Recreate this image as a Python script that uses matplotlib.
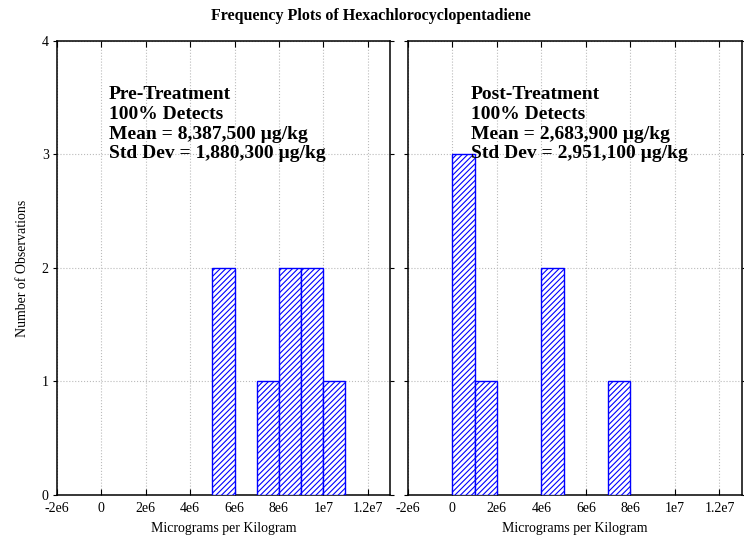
import numpy as np
import matplotlib.pyplot as plt

plt.rcParams['font.family'] = 'Liberation Serif'

# bin left edges (ug/kg) and counts
pre_edges = [5e6, 7e6, 8e6, 9e6, 1e7]
pre_counts = [2, 1, 2, 2, 1]
post_edges = [0, 1e6, 4e6, 7e6]
post_counts = [3, 1, 2, 1]
bin_width = 1e6

pre_text = "Pre-Treatment\n100% Detects\nMean = 8,387,500 µg/kg\nStd Dev = 1,880,300 µg/kg"
post_text = "Post-Treatment\n100% Detects\nMean = 2,683,900 µg/kg\nStd Dev = 2,951,100 µg/kg"

xticks = [-2e6, 0, 2e6, 4e6, 6e6, 8e6, 1e7, 1.2e7]
xticklabels = ["-2e6", "0", "2e6", "4e6", "6e6", "8e6", "1e7", "1.2e7"]

plt.rcParams['hatch.color'] = 'blue'
plt.rcParams['hatch.linewidth'] = 0.8

fig = plt.figure(figsize=(7.44, 5.46), dpi=100)
ax1 = fig.add_axes([0.0766, 0.0934, 0.4474, 0.8316])
ax2 = fig.add_axes([0.548, 0.0934, 0.449, 0.8316])

for ax, edges, counts, txt, tx in [(ax1, pre_edges, pre_counts, pre_text, 0.156),
                                   (ax2, post_edges, post_counts, post_text, 0.189)]:
    ax.bar(edges, counts, width=bin_width, align='edge', color='white',
           edgecolor='blue', hatch='//////', linewidth=1.0, zorder=3)
    ax.set_xlim(-2e6, 1.3e7)
    ax.set_ylim(0, 4)
    ax.set_xticks(xticks)
    ax.set_xticklabels(xticklabels)
    ax.set_yticks([0, 1, 2, 3, 4])
    ax.grid(True, linestyle=':', color='#bbbbbb', linewidth=0.8, zorder=0)
    ax.tick_params(axis='x', direction='in', length=4, labelsize=10,
                   top=True, pad=5)
    ax.tick_params(axis='y', direction='out', length=3, labelsize=10,
                   right=True, pad=3)
    ax.set_xlabel("Micrograms per Kilogram", fontsize=10, labelpad=5)
    for s in ax.spines.values():
        s.set_linewidth(1.1)
    ax.text(tx, 0.9, txt, transform=ax.transAxes, fontsize=14,
            fontweight='bold', va='top', ha='left', linespacing=1.2)

ax2.set_yticklabels([])
ax1.set_ylabel("Number of Observations", fontsize=10, labelpad=9)
fig.suptitle("Frequency Plots of Hexachlorocyclopentadiene", fontsize=11.5,
             fontweight='bold', x=0.499, y=0.985)

fig.savefig("out.png", dpi=100)
